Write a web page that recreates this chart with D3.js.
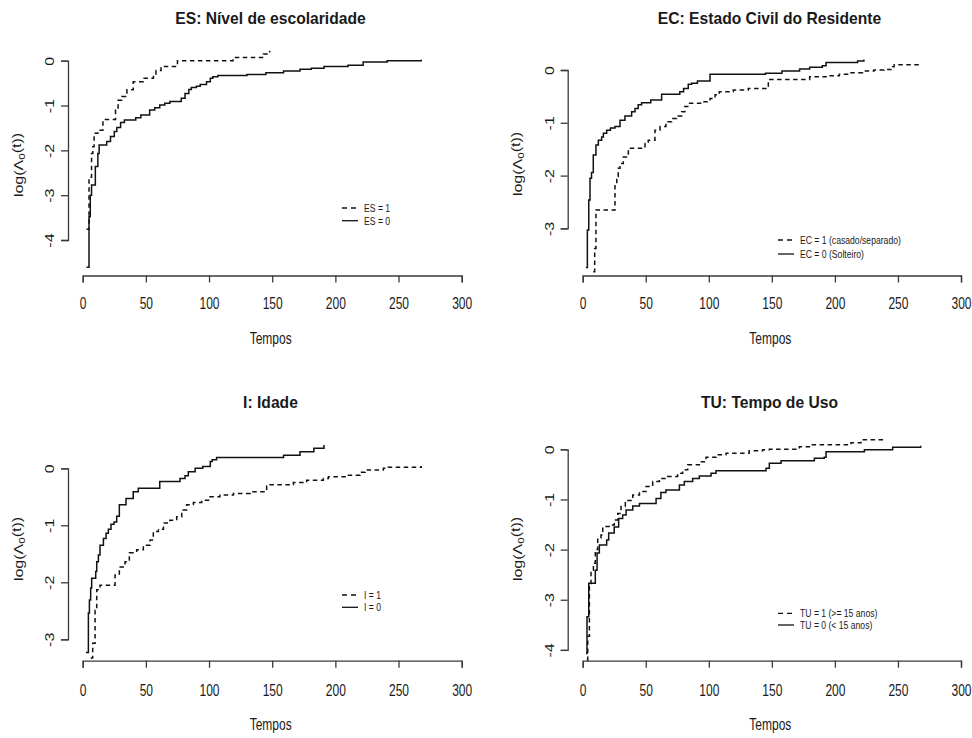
<!DOCTYPE html>
<html>
<head>
<meta charset="utf-8">
<script src="https://cdn.jsdelivr.net/npm/d3@7"></script>
<style>
  html, body { margin: 0; padding: 0; background: #fff; }
  svg { display: block; }
  text { font-family: "Liberation Sans", Arial, Helvetica, sans-serif; fill: #1a1a1a; }
</style>
</head>
<body>
<svg id="chart" width="972" height="738"></svg>
<script>
// Baseline cumulative hazard estimates, log scale, as [time, log(Lambda0(t))] steps.
const es1 = [[3,-3.76],[5,-2.6],[7,-2.07],[8,-1.92],[9,-1.62],[12,-1.55],[16,-1.31],[26,-1.1],[28,-0.88],[31,-0.8],[35,-0.65],[40,-0.47],[48,-0.39],[56,-0.32],[58,-0.22],[62,-0.13],[75,0.0],[119,0.07],[143,0.15],[148,0.22]];
const es0 = [[3,-4.61],[5,-3.48],[6,-3.0],[7,-2.77],[10,-2.36],[12,-2.07],[13,-1.88],[19,-1.8],[22,-1.69],[25,-1.58],[27,-1.49],[30,-1.38],[33,-1.32],[42,-1.27],[46,-1.21],[53,-1.1],[57,-1.05],[61,-0.99],[65,-0.95],[69,-0.91],[78,-0.84],[81,-0.73],[84,-0.64],[86,-0.6],[90,-0.57],[93,-0.53],[98,-0.47],[101,-0.39],[103,-0.36],[107,-0.33],[130,-0.31],[145,-0.27],[159,-0.23],[172,-0.19],[181,-0.17],[191,-0.13],[210,-0.1],[222,-0.03],[241,0.0],[268,0.02]];

const ec1 = [[8.4,-3.82],[9.5,-3.38],[10.5,-2.65],[25.6,-2.15],[27,-2.02],[28.2,-1.86],[29.6,-1.77],[32.2,-1.65],[36.2,-1.48],[49.4,-1.39],[52,-1.33],[57.3,-1.14],[61.3,-1.07],[66,-0.98],[70.6,-0.92],[74.5,-0.87],[78.5,-0.79],[81,-0.69],[83.3,-0.63],[94.4,-0.6],[101,-0.54],[105,-0.47],[108.3,-0.41],[119.4,-0.38],[131.3,-0.35],[147.2,-0.18],[180,-0.13],[193,-0.11],[203.5,-0.08],[212.8,-0.05],[222,-0.02],[231,0.0],[239,0.01],[245.8,0.06],[247,0.1],[268,0.12]];
const ec0 = [[2.5,-3.74],[3.7,-3.03],[4.8,-2.46],[5.8,-2.05],[7,-1.94],[8.4,-1.61],[10.5,-1.42],[12.4,-1.33],[15,-1.27],[16.4,-1.2],[19,-1.14],[22,-1.1],[25.6,-1.07],[29.6,-0.95],[33.5,-0.87],[38.8,-0.79],[41.5,-0.73],[44,-0.66],[46.7,-0.62],[54,-0.57],[62.6,-0.46],[77,-0.41],[80,-0.35],[83.7,-0.27],[86.4,-0.25],[91,-0.21],[101,-0.08],[145,-0.06],[158,-0.02],[172,0.02],[180,0.05],[190,0.08],[193,0.14],[218,0.17],[223,0.2]];

const i1 = [[6.3,-3.33],[7.9,-3.07],[9.8,-2.49],[11.1,-2.13],[13.7,-2.05],[25.6,-1.87],[29,-1.73],[33.5,-1.64],[36.9,-1.48],[42.7,-1.43],[48,-1.35],[53.3,-1.26],[55.9,-1.11],[59.9,-1.07],[63.9,-0.96],[69,-0.91],[74.4,-0.85],[78.4,-0.73],[82.3,-0.64],[87.6,-0.6],[94.2,-0.56],[100.8,-0.5],[108.7,-0.47],[119.3,-0.44],[132.5,-0.41],[145.6,-0.29],[166.8,-0.25],[177.3,-0.21],[190.5,-0.18],[194.5,-0.15],[209,-0.12],[219.5,-0.07],[223.5,-0.03],[238,0.0],[242,0.02],[268,0.04]];
const i0 = [[2.6,-3.23],[4.5,-2.54],[5.3,-2.31],[6.3,-2.1],[7.1,-1.93],[10.3,-1.81],[11.1,-1.64],[12.4,-1.52],[13.7,-1.35],[16.4,-1.23],[18.5,-1.14],[20.3,-1.07],[22.4,-0.98],[24.8,-0.94],[26.9,-0.84],[29,-0.64],[34.3,-0.53],[40,-0.41],[44,-0.35],[61,-0.23],[77,-0.18],[81,-0.13],[83.6,-0.06],[89,0.0],[95,0.03],[101,0.12],[102.5,0.15],[106,0.19],[159,0.23],[172,0.29],[183,0.35],[191,0.41]];

const tu1 = [[3.2,-4.2],[4,-3.73],[5.3,-2.74],[6.6,-2.41],[8.5,-2.27],[10,-2.0],[11.9,-1.77],[14.5,-1.71],[15.9,-1.54],[22.5,-1.51],[25,-1.41],[27.8,-1.28],[30.4,-1.14],[33.8,-1.02],[39.7,-0.91],[45,-0.84],[50.2,-0.74],[55.5,-0.64],[60.8,-0.58],[67.4,-0.54],[75.3,-0.48],[79.3,-0.41],[83.3,-0.31],[92.5,-0.25],[97.8,-0.16],[105.7,-0.11],[113.7,-0.08],[132,-0.03],[142.7,-0.01],[148,0.0],[171.8,0.05],[181,0.09],[212.8,0.13],[220.7,0.19],[239,0.24]];
const tu0 = [[2.6,-4.07],[3.4,-3.34],[4.8,-2.67],[10,-2.41],[11.4,-2.07],[13.2,-1.91],[19,-1.81],[20.6,-1.67],[25,-1.55],[28.5,-1.38],[31.7,-1.31],[34.4,-1.21],[39.7,-1.13],[45,-1.08],[58.2,-0.98],[62,-0.86],[66,-0.81],[76.7,-0.71],[80.6,-0.64],[87.2,-0.58],[92.5,-0.53],[101.8,-0.48],[105.7,-0.43],[145.4,-0.38],[148,-0.28],[157.3,-0.23],[183.7,-0.18],[191.6,-0.16],[193,-0.05],[223.4,-0.01],[245.8,0.04],[268,0.07]];

const titles = ["ES: Nível de escolaridade", "EC: Estado Civil do Residente", "I: Idade", "TU: Tempo de Uso"];
const legendLabels = [
  ["ES = 1", "ES = 0"],
  ["EC = 1 (casado/separado)", "EC = 0 (Solteiro)"],
  ["I = 1", "I = 0"],
  ["TU = 1 (>= 15 anos)", "TU = 0 (< 15 anos)"]
];
const xTicks = [0, 50, 100, 150, 200, 250, 300];
const yTicksFour = [0, -1, -2, -3, -4];
const yTicksThree = [0, -1, -2, -3];
const xTitle = "Tempos";

// Layout of each panel (pixel geometry)
const panels = [
  { title: titles[0], legend: legendLabels[0], series: [es1, es0], yTicks: yTicksFour,
    xr: [82.7, 461.7], y0: 60.7, yUnit: 44.83, xAxisY: 275.5, yAxisX: 68,
    titleX: 270.5, titleY: 23.5, tickY: 309.3, xLabY: 344, yLabX: 22.5, yLabY: 165,
    legX: 342, legY: 208, legDy: 12.7 },
  { title: titles[1], legend: legendLabels[1], series: [ec1, ec0], yTicks: yTicksThree,
    xr: [582.7, 961], y0: 70, yUnit: 52.8, xAxisY: 275.5, yAxisX: 567.7,
    titleX: 769.5, titleY: 23.5, tickY: 309.3, xLabY: 344, yLabX: 521.5, yLabY: 164,
    legX: 778, legY: 240, legDy: 14 },
  { title: titles[2], legend: legendLabels[2], series: [i1, i0], yTicks: yTicksThree,
    xr: [82.7, 461.7], y0: 468.3, yUnit: 57, xAxisY: 660.7, yAxisX: 68,
    titleX: 270.5, titleY: 408.3, tickY: 695.7, xLabY: 730, yLabX: 22.5, yLabY: 549,
    legX: 342, legY: 595, legDy: 12.3 },
  { title: titles[3], legend: legendLabels[3], series: [tu1, tu0], yTicks: yTicksFour,
    xr: [582.7, 961], y0: 449.3, yUnit: 50.15, xAxisY: 660.7, yAxisX: 567.7,
    titleX: 769.5, titleY: 408.3, tickY: 696, xLabY: 730, yLabX: 521.5, yLabY: 549,
    legX: 778, legY: 613.3, legDy: 11.7 }
];

const SQ = 0.75;          // horizontal squeeze of the regular lettering
const DASH = "4.5,3.5";
const svg = d3.select("#chart");
svg.append("rect").attr("width", 972).attr("height", 738).attr("fill", "#fff");

function squeezed(g, x, y, str, size, anchor, rotate) {
  return g.append("text")
    .attr("transform", `translate(${x},${y}) scale(${SQ},1)` + (rotate ? " rotate(-90)" : ""))
    .attr("text-anchor", anchor)
    .style("font-size", size + "px")
    .text(str);
}

panels.forEach(p => {
  const g = svg.append("g");
  const x = d3.scaleLinear().domain([0, 300]).range(p.xr);
  const yMin = d3.min(p.yTicks);
  const y = d3.scaleLinear().domain([0, yMin]).range([p.y0, p.y0 + p.yUnit * (-yMin)]);

  // x axis
  const xa = g.append("g").attr("transform", `translate(0,${p.xAxisY})`)
    .call(d3.axisBottom(x).tickValues(xTicks).tickSizeOuter(0).tickSize(7).tickFormat(d3.format("d")));
  xa.selectAll("text")
    .attr("y", null).attr("dy", null)
    .attr("transform", `translate(0,${p.tickY - p.xAxisY}) scale(${SQ},1)`)
    .style("font-size", "16px").attr("fill", "#1a1a1a");

  // y axis
  const ya = g.append("g").attr("transform", `translate(${p.yAxisX},0)`)
    .call(d3.axisLeft(y).tickValues(p.yTicks).tickSizeOuter(0).tickSize(7).tickFormat(d => String(d)));
  ya.selectAll("text")
    .attr("x", null).attr("dy", null)
    .attr("text-anchor", "middle")
    .attr("transform", `translate(-14,0) scale(${SQ},1) rotate(-90)`)
    .style("font-size", "16px").attr("fill", "#1a1a1a");

  [xa, ya].forEach(a => {
    a.select(".domain").attr("stroke", "#3a3a3a").attr("stroke-width", 1.3);
    a.selectAll(".tick line").attr("stroke", "#3a3a3a").attr("stroke-width", 1.3);
    a.attr("font-family", null);
  });

  // step curves
  const line = d3.line().x(d => x(d[0])).y(d => y(d[1])).curve(d3.curveStepAfter);
  p.series.forEach((s, i) => {
    g.append("path").attr("d", line(s))
      .attr("fill", "none").attr("stroke", "#111").attr("stroke-width", 1.5)
      .attr("stroke-dasharray", i === 0 ? DASH : null);
  });

  // title
  g.append("text")
    .attr("transform", `translate(${p.titleX},${p.titleY}) scale(0.96,1)`)
    .attr("text-anchor", "middle")
    .style("font-size", "16.3px").style("font-weight", "bold")
    .text(p.title);

  // axis titles
  squeezed(g, (p.xr[0] + p.xr[1]) / 2 - 1.5, p.xLabY, xTitle, 16, "middle", false);
  const yl = g.append("text")
    .attr("transform", `translate(${p.yLabX},${p.yLabY}) scale(${SQ},1) rotate(-90)`)
    .attr("text-anchor", "middle")
    .style("font-size", "16px");
  yl.append("tspan").text("log(\u039B");
  yl.append("tspan").attr("dy", "0.3em").style("font-size", "11.5px").text("0");
  yl.append("tspan").attr("dy", "-0.3em").text("(t))");

  // legend
  p.legend.forEach((lab, i) => {
    const ly = p.legY + i * p.legDy;
    g.append("line").attr("x1", p.legX).attr("x2", p.legX + 16)
      .attr("y1", ly).attr("y2", ly)
      .attr("stroke", "#111").attr("stroke-width", 1.3)
      .attr("stroke-dasharray", i === 0 ? "5,4" : null);
    squeezed(g, p.legX + 22, ly + 4, lab, 11.5, "start", false);
  });
});
</script>
</body>
</html>
